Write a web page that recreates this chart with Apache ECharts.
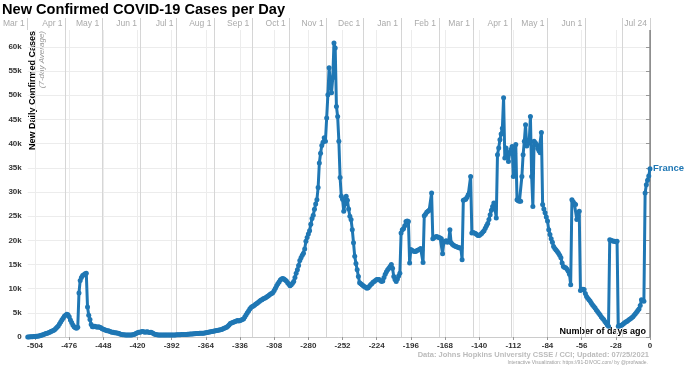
<!DOCTYPE html>
<html>
<head>
<meta charset="utf-8">
<style>
html,body{margin:0;padding:0;background:#fff;}
#chart{width:700px;height:366px;}
</style>
<script src="https://cdn.jsdelivr.net/npm/echarts@6/dist/echarts.min.js"></script>
</head>
<body>
<div id="chart"></div>
<script>
// Day offsets relative to the last data day (Jul 24, 2021 = 0)
const startDay = -510;
// 7-day average new confirmed cases, France, in thousands (one value per day from startDay to 0)
const franceCasesK = [
  0.01,0.02,0.03,0.04,0.06,0.08,0.1,0.13,0.17,0.22,      // -510..-501
  0.28,0.35,0.42,0.5,0.6,0.7,0.8,0.9,1.0,1.15,           // -500..-491
  1.25,1.35,1.5,1.75,2.0,2.3,2.7,3.1,3.5,3.9,            // -490..-481
  4.3,4.5,4.7,4.6,4.2,3.5,3.0,2.5,2.1,1.9,               // -480..-471
  1.8,2.0,9.1,11.7,12.3,12.7,12.9,13.1,13.2,6.2,         // -470..-461
  4.5,3.6,2.6,2.1,2.1,2.2,2.1,2.0,2.1,2.0,               // -460..-451
  1.9,1.7,1.6,1.5,1.4,1.3,1.3,1.2,1.1,1.0,               // -450..-441
  1.0,0.9,0.9,0.85,0.8,0.7,0.55,0.5,0.45,0.45,           // -440..-431
  0.4,0.4,0.4,0.4,0.4,0.4,0.45,0.5,0.6,0.8,              // -430..-421
  0.9,1.0,1.0,1.1,1.15,1.1,1.0,1.05,1.1,1.0,             // -420..-411
  0.95,1.0,0.9,0.7,0.55,0.5,0.45,0.4,0.4,0.4,            // -410..-401
  0.4,0.4,0.4,0.4,0.4,0.4,0.4,0.4,0.4,0.4,               // -400..-391
  0.4,0.4,0.45,0.45,0.45,0.45,0.5,0.5,0.5,0.5,           // -390..-381
  0.5,0.55,0.55,0.6,0.6,0.6,0.65,0.65,0.7,0.7,           // -380..-371
  0.7,0.75,0.75,0.8,0.8,0.85,0.9,0.95,1.0,1.05,          // -370..-361
  1.1,1.15,1.2,1.25,1.3,1.35,1.4,1.45,1.5,1.55,          // -360..-351
  1.7,1.8,1.9,2.0,2.2,2.5,2.8,2.9,3.0,3.1,               // -350..-341
  3.2,3.3,3.4,3.3,3.4,3.5,3.6,3.8,4.2,4.6,               // -340..-331
  5.0,5.4,5.8,6.1,6.3,6.4,6.6,6.8,7.0,7.2,               // -330..-321
  7.4,7.6,7.7,7.9,8.0,8.1,8.3,8.5,8.7,8.9,               // -320..-311
  9.0,9.2,9.6,10.1,10.6,11.0,11.4,11.8,12.0,12.1,        // -310..-301
  12.0,11.8,11.6,11.2,10.9,10.6,10.8,11.1,11.5,12.3,     // -300..-291
  13.2,13.9,14.8,15.8,16.4,16.9,17.3,18.2,19.8,20.6,     // -290..-281
  21.3,22.0,23.3,24.5,25.2,26.4,27.5,28.4,30.9,36.0,     // -280..-271
  38.0,39.6,40.3,41.2,40.5,45.3,50.1,55.7,52.6,50.5,     // -270..-261
  53.6,60.8,59.8,47.7,45.6,40.5,33.0,29.1,28.5,26.0,     // -260..-251
  27.5,29.1,28.3,26.5,25.0,24.3,22.2,19.5,16.7,15.2,     // -250..-241
  13.9,12.5,11.2,11.0,10.8,10.6,10.4,10.3,10.1,10.2,     // -240..-231
  10.5,10.8,11.0,11.3,11.5,11.7,11.9,11.9,11.9,11.7,     // -230..-221
  11.5,11.6,12.3,13.0,13.5,13.9,14.2,14.6,15.0,14.2,     // -220..-211
  12.5,11.9,11.5,12.0,12.6,13.2,21.5,22.2,22.4,23.0,     // -210..-201
  23.9,24.0,23.9,15.3,18.1,17.9,17.8,17.7,17.7,17.9,     // -200..-191
  18.0,18.1,18.3,18.0,15.4,25.1,25.4,25.8,26.0,26.2,     // -190..-181
  26.3,29.8,20.3,20.6,20.7,20.8,20.7,20.6,20.5,20.3,     // -180..-171
  17.2,19.6,19.8,19.9,19.6,19.8,22.2,19.5,19.2,19.0,     // -170..-161
  18.8,18.7,18.6,18.5,18.4,18.4,16.0,28.3,28.4,28.5,     // -160..-151
  28.9,29.4,29.8,33.2,21.5,21.6,21.5,21.4,21.2,21.0,     // -150..-141
  21.0,21.2,21.4,21.7,22.0,22.5,23.0,23.5,24.3,25.3,     // -140..-131
  26.2,27.0,27.7,26.5,24.6,37.7,39.1,40.8,42.0,43.2,     // -130..-121
  49.5,37.0,39.1,38.2,36.3,38.0,38.8,39.4,33.2,38.0,     // -120..-111
  39.8,28.4,28.2,28.1,28.1,33.2,37.7,40.5,43.9,39.5,     // -110..-101
  40.0,40.5,45.6,33.2,27.0,40.5,40.2,39.8,39.0,38.5,     // -100..-91
  38.1,42.3,27.4,26.5,25.7,24.8,24.0,22.2,21.2,20.3,     // -90..-81
  19.6,18.7,18.3,18.0,17.7,17.3,16.9,16.4,15.3,14.6,     // -80..-71
  14.4,14.3,14.0,13.6,13.0,10.8,28.4,28.0,27.6,27.4,     // -70..-61
  24.3,25.0,26.0,9.6,9.8,9.9,9.8,9.0,8.4,8.0,            // -60..-51
  7.7,7.4,7.0,6.6,6.3,6.0,5.6,5.3,4.9,4.6,               // -50..-41
  4.2,3.9,3.6,3.2,2.9,2.5,2.2,20.1,20.0,19.9,            // -40..-31
  19.8,19.8,19.7,19.8,2.2,2.3,2.4,2.5,2.7,2.9,           // -30..-21
  3.1,3.2,3.4,3.6,3.8,4.0,4.2,4.5,4.8,5.1,               // -20..-11
  5.5,5.8,6.5,7.7,7.5,7.4,29.8,31.5,32.4,33.3,           // -10..-1
  34.8                                                   // 0
];
if (franceCasesK.length !== 511) { throw new Error('data length ' + franceCasesK.length); }

const dayTicks = [-504,-476,-448,-420,-392,-364,-336,-308,-280,-252,-224,-196,-168,-140,-112,-84,-56,-28,0];
const monthDays = [-510,-479,-449,-418,-388,-357,-326,-296,-265,-235,-204,-173,-145,-114,-84,-53,-23,0];
const monthLabels = ['Mar 1','Apr 1','May 1','Jun 1','Jul 1','Aug 1','Sep 1','Oct 1','Nov 1','Dec 1','Jan 1','Feb 1','Mar 1','Apr 1','May 1','Jun 1','','Jul 24'];
const yTickValuesK = [0,5,10,15,20,25,30,35,40,45,50,55,60];

const seriesData = franceCasesK.map((v, i) => [startDay + i, v]);
const FONT = '"Liberation Sans", Arial, Helvetica, sans-serif';
const BLUE = '#1f77b4';

const chart = echarts.init(document.getElementById('chart'), null, {renderer: 'canvas'});

const monthLineData = monthDays.filter(d => d !== 0 && d !== startDay).map(d => ({xAxis: d, lineStyle: {color: '#d6d6d6', width: 1, type: 'solid'}}));
const tickLineData = dayTicks.filter(d => d !== 0).map(d => ({xAxis: d, lineStyle: {color: '#ececec', width: 1, type: 'solid'}}));
const endLineData = [{xAxis: 0, lineStyle: {color: '#8c8c8c', width: 1.5, type: 'solid'}}];

chart.setOption({
  animation: false,
  textStyle: {fontFamily: FONT},
  grid: {left: 27, right: 50, top: 30, bottom: 29, containLabel: false},
  xAxis: [
    {
      type: 'value', position: 'bottom', min: startDay, max: 0,
      axisLine: {show: true, lineStyle: {color: '#cccccc', width: 1}},
      axisTick: {show: true, customValues: dayTicks, length: 3, lineStyle: {color: '#999'}},
      axisLabel: {customValues: dayTicks, fontSize: 8, fontWeight: 'bold', color: '#333', margin: 5, fontFamily: FONT},
      splitLine: {show: false}
    },
    {
      type: 'value', position: 'top', min: startDay, max: 0,
      axisLine: {show: false},
      axisTick: {show: true, customValues: monthDays, length: 12, inside: false, lineStyle: {color: '#d0d0d0'}},
      axisLabel: {
        customValues: monthDays, fontSize: 8.5, color: '#aaaaaa', align: 'right', margin: 2,
        padding: [0, 3, 0, 0], fontFamily: FONT,
        formatter: v => { const i = monthDays.indexOf(v); return i >= 0 ? monthLabels[i] : ''; }
      },
      splitLine: {show: false}
    }
  ],
  yAxis: {
    type: 'value', min: 0, max: 63.5, interval: 5,
    axisLine: {show: true, lineStyle: {color: '#999', width: 1}},
    axisTick: {show: true, length: 4, customValues: yTickValuesK, lineStyle: {color: '#999'}},
    axisLabel: {customValues: yTickValuesK, fontSize: 8, fontWeight: 'bold', color: '#333', margin: 6, fontFamily: FONT,
      formatter: v => v === 0 ? '0' : v + 'k'},
    splitLine: {show: true, lineStyle: {color: '#ececec', width: 1}}
  },
  series: [
    {
      type: 'line', name: 'gridlines', data: [[startDay, 0]], xAxisIndex: 0, z: 1,
      symbol: 'none', lineStyle: {width: 0, opacity: 0}, silent: true,
      markLine: {z: 1, silent: true, symbol: ['none', 'none'], label: {show: false}, animation: false,
        data: tickLineData.concat(monthLineData).concat(endLineData)}
    },
    {
      type: 'line', name: 'France', data: seriesData, xAxisIndex: 0, z: 3,
      symbol: 'circle', symbolSize: 5, showSymbol: true,
      itemStyle: {color: BLUE},
      lineStyle: {color: BLUE, width: 3},
      endLabel: {show: true, formatter: 'France', color: BLUE, fontWeight: 'bold', fontSize: 9.5, distance: 3, fontFamily: FONT}
    }
  ],
  graphic: [
    {type: 'text', left: 2, top: 2, style: {text: 'New Confirmed COVID-19 Cases per Day', font: 'bold 14.6px ' + FONT, fill: '#000'}},
    {type: 'text', x: 33, y: 31, rotation: Math.PI / 2,
      style: {text: 'New Daily Confirmed Cases', font: 'bold 9px ' + FONT, fill: '#000', align: 'right', verticalAlign: 'middle'}},
    {type: 'text', x: 41.5, y: 31, rotation: Math.PI / 2,
      style: {text: '(7-day Average)', font: 'italic 8px ' + FONT, fill: '#999', align: 'right', verticalAlign: 'middle'}},
    {type: 'text', x: 646, y: 332, style: {text: 'Number of days ago', font: 'bold 9px ' + FONT, fill: '#000', align: 'right', verticalAlign: 'middle'}},
    {type: 'text', x: 649, y: 354.5, style: {text: 'Data: Johns Hopkins University CSSE / CCI; Updated: 07/25/2021', font: 'bold 7.5px ' + FONT, fill: '#bbbbbb', align: 'right', verticalAlign: 'middle'}},
    {type: 'text', x: 648, y: 362.5, style: {text: 'Interactive Visualization: https://91-DIVOC.com/ by @profwade.', font: '5px ' + FONT, fill: '#a0a0a0', align: 'right', verticalAlign: 'middle'}}
  ]
});
</script>
</body>
</html>
